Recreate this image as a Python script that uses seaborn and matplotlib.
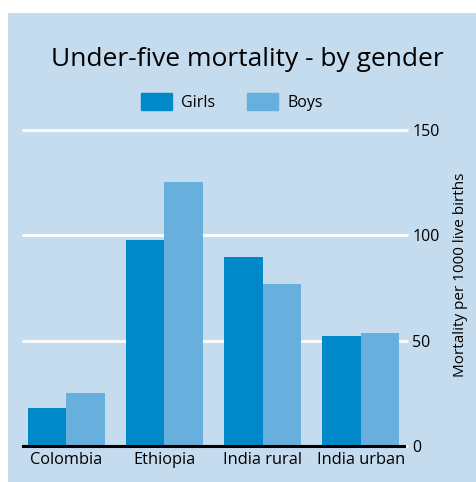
import matplotlib
matplotlib.use("Agg")
import matplotlib.pyplot as plt
import pandas as pd
import seaborn as sns
from matplotlib.patches import Rectangle

# Data
COUNTRIES = ["Colombia", "Ethiopia", "India rural", "India urban"]
GIRLS = [18, 98, 89.5, 52]
BOYS = [25, 125.5, 77, 53.5]
GENDERS = ["Girls", "Boys"]
Y_TICKS = [0, 50, 100, 150]

BG = "#C5DBEE"
PALETTE = {"Girls": "#0088C9", "Boys": "#67AFDC"}

df = pd.DataFrame({
    "country": COUNTRIES * 2,
    "gender": ["Girls"] * len(COUNTRIES) + ["Boys"] * len(COUNTRIES),
    "value": GIRLS + BOYS,
})

sns.set_theme(style="white")
plt.rcParams["font.family"] = ["Open Sans", "DejaVu Sans"]
plt.rcParams["text.color"] = "black"

fig = plt.figure(figsize=(4.76, 4.82), dpi=100)
fig.patch.set_facecolor("white")
fig.patches.append(Rectangle((8 / 476, 0), 1, (482 - 13) / 482,
                             transform=fig.transFigure, facecolor=BG,
                             edgecolor="none", zorder=-10))

ax = fig.add_axes([23 / 476, 36 / 482, 381 / 476, 316 / 482])
ax.patch.set_alpha(0)

sns.barplot(data=df, x="country", y="value", hue="gender", hue_order=GENDERS,
            palette=PALETTE, width=0.78, gap=0, saturation=1, ax=ax,
            legend=False, zorder=3, linewidth=0, edgecolor="none")

ax.set_xlim(-0.44, 3.44)
ax.set_ylim(0, 150)
for y in Y_TICKS[1:]:
    ax.axhline(y, color="white", lw=2, zorder=1, clip_on=False)

for side in ["top", "left", "right"]:
    ax.spines[side].set_visible(False)
ax.spines["bottom"].set_color("black")
ax.spines["bottom"].set_linewidth(2.2)
ax.spines["bottom"].set_zorder(5)

ax.yaxis.tick_right()
ax.set_yticks(Y_TICKS)
ax.tick_params(axis="y", length=3, width=2, color="white", pad=3,
               labelsize=11.5, labelcolor="black")
ax.yaxis.get_major_ticks()[0].tick2line.set_color("black")
ax.tick_params(axis="x", length=0, pad=4, labelsize=11.8, colors="black")
ax.set_xlabel("")

ax.yaxis.set_label_position("right")
ax.set_ylabel("Mortality per 1000 live births", fontsize=11, color="black")
ax.yaxis.label.set_ha("center")
ax.yaxis.label.set_va("center")
ax.yaxis.set_label_coords((460 - 23) / 381, (482 - 275 - 36) / 316)

fig.text(247 / 476, 1 - 60 / 482, "Under-five mortality - by gender",
         ha="center", va="center", fontsize=19, color="black")

handles = [Rectangle((0, 0), 1, 1, color=PALETTE[g]) for g in GENDERS]
leg = fig.legend(handles, GENDERS, loc="center",
                 bbox_to_anchor=(232 / 476, 1 - 102 / 482),
                 ncol=2, frameon=False, fontsize=11.5, handlelength=1.95,
                 handleheight=1.25, columnspacing=2.0, handletextpad=0.56)
for t in leg.get_texts():
    t.set_color("black")

fig.savefig("out.png", dpi=100, facecolor="white")
